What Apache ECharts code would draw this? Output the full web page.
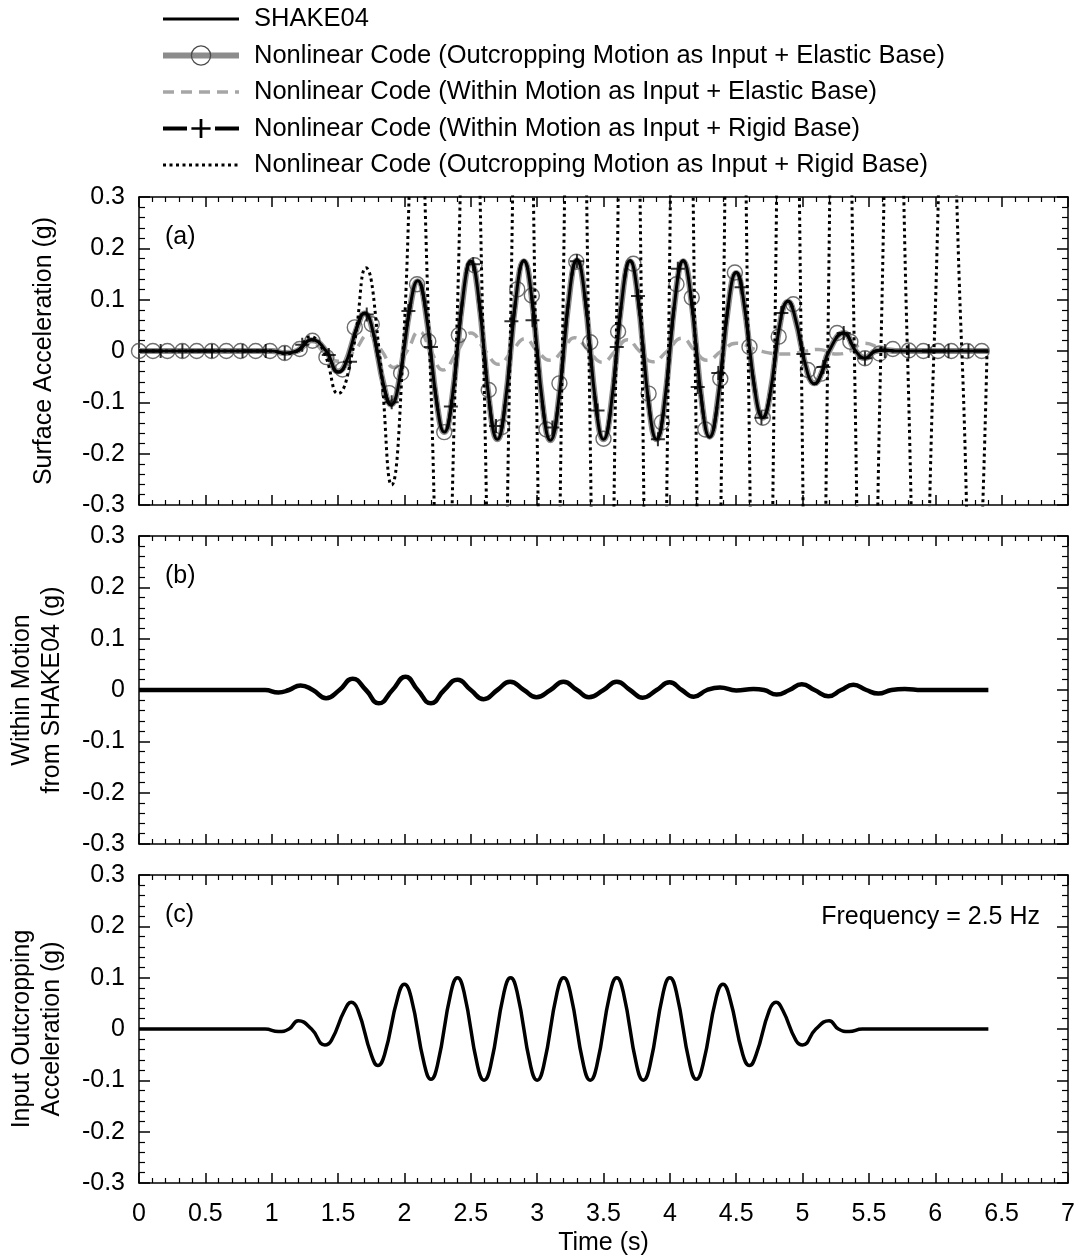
<!DOCTYPE html>
<html>
<head>
<meta charset="utf-8">
<script src="https://cdn.jsdelivr.net/npm/echarts@6.0.0/dist/echarts.min.js"></script>
<style>
  html, body { margin: 0; padding: 0; background: #fff; }
  #main { width: 1076px; height: 1257px; }
</style>
</head>
<body>
<div id="main"></div>
<script>
// [time (s), acceleration (g)]
var shake04 = [[0,0],[1.0,0],[1.1,-0.004],[1.19,0],[1.3,0.022],[1.41,0],[1.5,-0.041],[1.55,-0.029],[1.65,0.052],[1.7,0.074],[1.75,0.052],[1.85,-0.074],[1.9,-0.105],[1.95,-0.074],[2.05,0.097],[2.1,0.137],[2.15,0.097],[2.25,-0.112],[2.3,-0.158],[2.35,-0.112],[2.45,0.124],[2.5,0.175],[2.55,0.124],[2.65,-0.122],[2.7,-0.172],[2.75,-0.122],[2.85,0.124],[2.9,0.176],[2.95,0.124],[3.05,-0.123],[3.1,-0.174],[3.15,-0.123],[3.25,0.126],[3.3,0.178],[3.35,0.126],[3.45,-0.122],[3.5,-0.172],[3.55,-0.122],[3.65,0.124],[3.7,0.176],[3.75,0.124],[3.85,-0.122],[3.9,-0.172],[3.95,-0.122],[4.05,0.124],[4.1,0.176],[4.15,0.124],[4.25,-0.119],[4.3,-0.168],[4.35,-0.119],[4.45,0.108],[4.5,0.153],[4.55,0.108],[4.65,-0.092],[4.7,-0.13],[4.75,-0.092],[4.84,0.069],[4.89,0.097],[4.94,0.069],[5.04,-0.045],[5.09,-0.064],[5.14,-0.045],[5.2,0],[5.31,0.035],[5.4,0],[5.47,-0.014],[5.55,0],[5.62,0.002],[5.7,0],[6.4,0]];
var elasticOut = [[0,0],[1.0,0],[1.1,-0.004],[1.19,0],[1.3,0.021],[1.41,0],[1.5,-0.04],[1.55,-0.028],[1.65,0.051],[1.7,0.073],[1.75,0.051],[1.85,-0.073],[1.9,-0.104],[1.95,-0.073],[2.05,0.096],[2.1,0.136],[2.15,0.096],[2.25,-0.112],[2.3,-0.158],[2.35,-0.112],[2.45,0.123],[2.5,0.174],[2.55,0.123],[2.65,-0.122],[2.7,-0.172],[2.75,-0.122],[2.85,0.124],[2.9,0.175],[2.95,0.124],[3.05,-0.123],[3.1,-0.174],[3.15,-0.123],[3.25,0.125],[3.3,0.177],[3.35,0.125],[3.45,-0.122],[3.5,-0.172],[3.55,-0.122],[3.65,0.124],[3.7,0.175],[3.75,0.124],[3.85,-0.122],[3.9,-0.172],[3.95,-0.122],[4.05,0.124],[4.1,0.175],[4.15,0.124],[4.25,-0.118],[4.3,-0.167],[4.35,-0.118],[4.45,0.107],[4.5,0.152],[4.55,0.107],[4.65,-0.092],[4.7,-0.13],[4.75,-0.092],[4.84,0.068],[4.89,0.096],[4.94,0.068],[5.04,-0.045],[5.09,-0.063],[5.14,-0.045],[5.2,0],[5.31,0.035],[5.4,0],[5.47,-0.014],[5.55,0],[5.62,0.002],[5.7,0],[6.4,0]];
var elasticMarks = [[0,0],[0.105,0],[0.214,0],[0.327,0],[0.435,0],[0.548,0],[0.658,0],[0.766,0],[0.879,0],[0.987,0],[1.098,-0.004],[1.211,0.004],[1.307,0.02],[1.412,-0.012],[1.533,-0.036],[1.626,0.046],[1.754,0.052],[1.885,-0.082],[1.975,-0.043],[2.095,0.13],[2.18,0.019],[2.3,-0.158],[2.41,0.031],[2.528,0.167],[2.635,-0.076],[2.735,-0.148],[2.85,0.12],[2.96,0.108],[3.07,-0.153],[3.168,-0.063],[3.295,0.174],[3.40,0.017],[3.50,-0.171],[3.61,0.038],[3.725,0.17],[3.84,-0.083],[3.94,-0.139],[4.05,0.13],[4.165,0.104],[4.267,-0.153],[4.38,-0.054],[4.49,0.153],[4.60,0.008],[4.70,-0.13],[4.82,0.028],[4.93,0.091],[5.04,-0.037],[5.14,-0.044],[5.26,0.035],[5.36,0.018],[5.47,-0.014],[5.58,-0.005],[5.68,0.004],[5.80,0.001],[5.91,0],[6.02,0],[6.12,0],[6.24,0],[6.35,0]];
var withinElastic = [[0,0],[1.0,0],[1.1,-0.003],[1.2,0.004],[1.3,0.016],[1.4,-0.004],[1.5,-0.02],[1.62,0],[1.73,0.032],[1.83,0],[1.92,-0.032],[2.02,0],[2.11,0.038],[2.2,0],[2.29,-0.037],[2.4,0],[2.5,0.035],[2.61,0],[2.71,-0.026],[2.81,0],[2.91,0.024],[3.0,0],[3.1,-0.018],[3.19,0],[3.28,0.026],[3.39,0],[3.49,-0.022],[3.59,0],[3.68,0.022],[3.77,0],[3.87,-0.021],[3.98,0],[4.09,0.025],[4.19,0],[4.28,-0.018],[4.39,0],[4.5,0.015],[4.68,0],[4.88,-0.006],[5.03,0],[5.12,0.003],[5.26,-0.006],[5.36,0],[5.46,0.015],[5.6,0.005],[5.7,0],[6.4,0]];
var rigidWithin = [[0,0],[1.0,0],[1.1,-0.004],[1.19,0],[1.3,0.022],[1.41,0],[1.5,-0.041],[1.55,-0.029],[1.65,0.052],[1.7,0.074],[1.75,0.052],[1.85,-0.074],[1.9,-0.105],[1.95,-0.074],[2.05,0.097],[2.1,0.137],[2.15,0.097],[2.25,-0.112],[2.3,-0.158],[2.35,-0.112],[2.45,0.124],[2.5,0.175],[2.55,0.124],[2.65,-0.122],[2.7,-0.172],[2.75,-0.122],[2.85,0.124],[2.9,0.176],[2.95,0.124],[3.05,-0.123],[3.1,-0.174],[3.15,-0.123],[3.25,0.126],[3.3,0.178],[3.35,0.126],[3.45,-0.122],[3.5,-0.172],[3.55,-0.122],[3.65,0.124],[3.7,0.176],[3.75,0.124],[3.85,-0.122],[3.9,-0.172],[3.95,-0.122],[4.05,0.124],[4.1,0.176],[4.15,0.124],[4.25,-0.119],[4.3,-0.168],[4.35,-0.119],[4.45,0.108],[4.5,0.153],[4.55,0.108],[4.65,-0.092],[4.7,-0.13],[4.75,-0.092],[4.84,0.069],[4.89,0.097],[4.94,0.069],[5.04,-0.045],[5.09,-0.064],[5.14,-0.045],[5.2,0],[5.31,0.035],[5.4,0],[5.47,-0.014],[5.55,0],[5.62,0.002],[5.7,0],[6.4,0]];
var rigidMarks = [[0.163,0],[0.327,0],[0.55,0],[0.78,0],[0.955,0],[1.098,-0.004],[1.23,0.012],[1.43,-0.008],[1.59,-0.021],[1.716,0.071],[1.904,-0.1],[2.03,0.078],[2.2,0.008],[2.35,-0.108],[2.518,0.169],[2.69,-0.146],[2.806,0.058],[2.965,0.06],[3.115,-0.149],[3.30,0.175],[3.455,-0.116],[3.60,0.008],[3.76,0.107],[3.91,-0.172],[4.06,0.16],[4.21,-0.07],[4.365,-0.043],[4.54,0.124],[4.69,-0.13],[4.84,0.074],[5.006,-0.006],[5.157,-0.031],[5.31,0.035],[5.47,-0.014],[5.62,0],[5.80,0],[5.95,0],[6.10,0],[6.25,0]];
// peaks beyond +-0.3 g are clipped in the figure; their size is estimated from the slopes
var outRigid = [[0,0],[1.0,0],[1.1,-0.005],[1.19,0],[1.29,0.028],[1.39,0],[1.5,-0.083],[1.61,0],[1.71,0.162],[1.81,0],[1.904,-0.261],[1.99,0],[2.09,0.6],[2.19,0],[2.29,-0.75],[2.39,0],[2.49,0.85],[2.595,0],[2.69,-1.3],[2.796,0],[2.89,1.4],[2.99,0],[3.09,-1.6],[3.19,0],[3.29,1.6],[3.39,0],[3.49,-1.6],[3.595,0],[3.69,1.8],[3.79,0],[3.89,-2.0],[3.99,0],[4.09,1.9],[4.19,0],[4.29,-1.9],[4.40,0],[4.49,1.8],[4.59,0],[4.69,-1.8],[4.79,0],[4.89,2.0],[4.99,0],[5.09,-2.0],[5.19,0],[5.29,1.7],[5.39,0],[5.49,-1.2],[5.59,0],[5.69,1.0],[5.79,0],[5.89,-0.8],[5.99,0],[6.09,0.65],[6.2,0],[6.29,-0.6],[6.39,0]];
var withinShake = [[0,0],[0.95,0],[1.05,-0.005],[1.13,0],[1.217,0.009],[1.31,0],[1.41,-0.016],[1.51,0],[1.61,0.022],[1.71,0],[1.806,-0.026],[1.91,0],[2.008,0.026],[2.10,0],[2.20,-0.026],[2.30,0],[2.40,0.02],[2.50,0],[2.597,-0.018],[2.70,0],[2.796,0.016],[2.90,0],[2.995,-0.014],[3.10,0],[3.198,0.016],[3.30,0],[3.39,-0.014],[3.50,0],[3.60,0.016],[3.70,0],[3.795,-0.015],[3.90,0],[3.998,0.015],[4.09,0],[4.18,-0.013],[4.28,0],[4.378,0.005],[4.50,-0.001],[4.63,0.002],[4.71,0],[4.805,-0.009],[4.90,0],[4.994,0.011],[5.09,0],[5.195,-0.012],[5.29,0],[5.383,0.010],[5.48,0],[5.57,-0.007],[5.67,0],[5.77,0.002],[5.9,0],[6.4,0]];
var inputOut = [[0,0],[0.95,0],[1.05,-0.005],[1.13,0],[1.2,0.016],[1.3,0],[1.4,-0.031],[1.45,-0.022],[1.55,0.037],[1.6,0.052],[1.65,0.037],[1.75,-0.05],[1.8,-0.071],[1.85,-0.05],[1.95,0.062],[2.0,0.087],[2.05,0.062],[2.15,-0.069],[2.2,-0.098],[2.25,-0.069],[2.35,0.071],[2.4,0.1],[2.45,0.071],[2.55,-0.071],[2.6,-0.1],[2.65,-0.071],[2.75,0.071],[2.8,0.1],[2.85,0.071],[2.95,-0.071],[3.0,-0.1],[3.05,-0.071],[3.15,0.071],[3.2,0.1],[3.25,0.071],[3.35,-0.071],[3.4,-0.1],[3.45,-0.071],[3.55,0.071],[3.6,0.1],[3.65,0.071],[3.75,-0.071],[3.8,-0.1],[3.85,-0.071],[3.95,0.071],[4.0,0.1],[4.05,0.071],[4.15,-0.069],[4.2,-0.098],[4.25,-0.069],[4.35,0.062],[4.4,0.087],[4.45,0.062],[4.55,-0.05],[4.6,-0.071],[4.65,-0.05],[4.75,0.037],[4.8,0.052],[4.85,0.037],[4.95,-0.022],[5.0,-0.031],[5.1,0],[5.2,0.016],[5.27,0],[5.35,-0.005],[5.45,0],[6.4,0]];

var names = [
  'SHAKE04',
  'Nonlinear Code (Outcropping Motion as Input + Elastic Base)',
  'Nonlinear Code (Within Motion as Input + Elastic Base)',
  'Nonlinear Code (Within Motion as Input + Rigid Base)',
  'Nonlinear Code (Outcropping Motion as Input + Rigid Base)'
];
var yNames = ['Surface Acceleration (g)', 'Within Motion\nfrom SHAKE04 (g)', 'Input Outcropping\nAcceleration (g)'];
var panelTags = ['(a)', '(b)', '(c)'];

var FONT = '"Liberation Sans", Arial, sans-serif';
var PLUS = 'path://M-1,-7H1V-1H7V1H1V7H-1V1H-7V-1H-1Z';
var tops = [197, 536, 875];

var chart = echarts.init(document.getElementById('main'));

function xAx(g, pos, labels) {
  return {
    type: 'value', gridIndex: g, position: pos, min: 0, max: 7, interval: 0.5,
    axisLine: { show: true, onZero: false, lineStyle: { color: '#000', width: 1.5 } },
    axisTick: { show: true, inside: true, length: 10, lineStyle: { color: '#000', width: 1.5 } },
    minorTick: { show: true, splitNumber: 5, length: 5, lineStyle: { color: '#000', width: 1.2 } },
    splitLine: { show: false },
    axisLabel: {
      show: labels, color: '#000', fontSize: 25, fontFamily: FONT, margin: 19,
      formatter: function (v) { return String(Math.round(v * 10) / 10); }
    },
    name: labels ? 'Time (s)' : '',
    nameLocation: 'middle', nameGap: 48,
    nameTextStyle: { color: '#000', fontSize: 25, fontFamily: FONT }
  };
}

function yAx(g, pos, name) {
  return {
    type: 'value', gridIndex: g, position: pos, min: -0.3, max: 0.3, interval: 0.1,
    axisLine: { show: true, onZero: false, lineStyle: { color: '#000', width: 1.5 } },
    axisTick: { show: true, inside: true, length: 11, lineStyle: { color: '#000', width: 1.5 } },
    minorTick: { show: true, splitNumber: 5, length: 6, lineStyle: { color: '#000', width: 1.2 } },
    splitLine: { show: false },
    axisLabel: {
      show: pos === 'left', color: '#000', fontSize: 25, fontFamily: FONT, margin: 14,
      formatter: function (v) { return Math.abs(v) < 1e-9 ? '0' : v.toFixed(1); }
    },
    name: name || '',
    nameLocation: 'middle', nameRotate: 90, nameGap: name && name.indexOf('\n') > 0 ? 72 : 80,
    nameTextStyle: { color: '#000', fontSize: 25, fontFamily: FONT, lineHeight: 30 }
  };
}

var grids = [], xAxes = [], yAxes = [], graphics = [];
for (var i = 0; i < 3; i++) {
  grids.push({ left: 139, top: tops[i], width: 929, height: 308, outerBoundsMode: 'none' });
  xAxes.push(xAx(i, 'bottom', i === 2), xAx(i, 'top', false));
  yAxes.push(yAx(i, 'left', yNames[i]), yAx(i, 'right', ''));
  graphics.push({
    type: 'text', x: 165, y: tops[i] + 40,
    style: { text: panelTags[i], fill: '#000', font: '25px ' + FONT, verticalAlign: 'middle' }
  });
}
graphics.push({
  type: 'text', x: 1040, y: tops[2] + 42,
  style: { text: 'Frequency = 2.5 Hz', fill: '#000', font: '25px ' + FONT, align: 'right', verticalAlign: 'middle' }
});

var ring = { color: 'rgba(0,0,0,0)', borderColor: '#4a4a4a', borderWidth: 1.4 };

var option = {
  animation: false,
  backgroundColor: '#fff',
  grid: grids,
  xAxis: xAxes,
  yAxis: yAxes,
  graphic: graphics,
  legend: {
    orient: 'vertical', left: 155, top: 1,
    itemWidth: 76, itemHeight: 24, itemGap: 10.5,
    textStyle: { color: '#000', fontSize: 25.5, lineHeight: 24, fontFamily: FONT, padding: [0, 0, 0, 10] },
    selectedMode: false,
    data: [
      { name: names[0], itemStyle: { opacity: 0 }, lineStyle: { width: 3 } },
      { name: names[1], itemStyle: { color: 'rgba(0,0,0,0)', borderColor: '#4a4a4a', borderWidth: 1.3 }, lineStyle: { width: 6 } },
      { name: names[2], itemStyle: { opacity: 0 }, lineStyle: { width: 3.5 } },
      { name: names[3], itemStyle: { color: '#000' }, lineStyle: { width: 4 } },
      { name: names[4], itemStyle: { opacity: 0 }, lineStyle: { width: 3 } }
    ]
  },
  series: [
    {
      name: names[1], type: 'line', xAxisIndex: 0, yAxisIndex: 0, data: elasticOut,
      smooth: true, showSymbol: false, symbol: 'circle', symbolSize: 14,
      lineStyle: { color: '#8c8c8c', width: 6 }, itemStyle: ring, z: 2
    },
    {
      type: 'scatter', xAxisIndex: 0, yAxisIndex: 0, data: elasticMarks,
      symbol: 'circle', symbolSize: 15, itemStyle: ring, z: 3
    },
    {
      name: names[2], type: 'line', xAxisIndex: 0, yAxisIndex: 0, data: withinElastic,
      smooth: true, showSymbol: false, symbol: 'none',
      lineStyle: { color: '#a6a6a6', width: 3.5, type: [11, 7] }, z: 3
    },
    {
      name: names[0], type: 'line', xAxisIndex: 0, yAxisIndex: 0, data: shake04,
      smooth: true, showSymbol: false, symbol: 'none',
      lineStyle: { color: '#000', width: 3 }, z: 4
    },
    {
      name: names[3], type: 'line', xAxisIndex: 0, yAxisIndex: 0, data: rigidWithin,
      smooth: true, showSymbol: false, symbol: PLUS, symbolSize: 14,
      lineStyle: { color: '#000', width: 3, type: [24, 28] }, itemStyle: { color: '#000' }, z: 4
    },
    {
      type: 'scatter', xAxisIndex: 0, yAxisIndex: 0, data: rigidMarks,
      symbol: PLUS, symbolSize: 14, itemStyle: { color: '#000' }, z: 5
    },
    {
      name: names[4], type: 'line', xAxisIndex: 0, yAxisIndex: 0, data: outRigid,
      smooth: true, showSymbol: false, symbol: 'none',
      lineStyle: { color: '#000', width: 3, type: [3, 3.5] }, z: 5
    },
    {
      type: 'line', xAxisIndex: 2, yAxisIndex: 2, data: withinShake,
      smooth: true, showSymbol: false, symbol: 'none',
      lineStyle: { color: '#000', width: 4.5 }
    },
    {
      type: 'line', xAxisIndex: 4, yAxisIndex: 4, data: inputOut,
      smooth: true, showSymbol: false, symbol: 'none',
      lineStyle: { color: '#000', width: 3.5 }
    }
  ]
};

chart.setOption(option);
</script>
</body>
</html>
